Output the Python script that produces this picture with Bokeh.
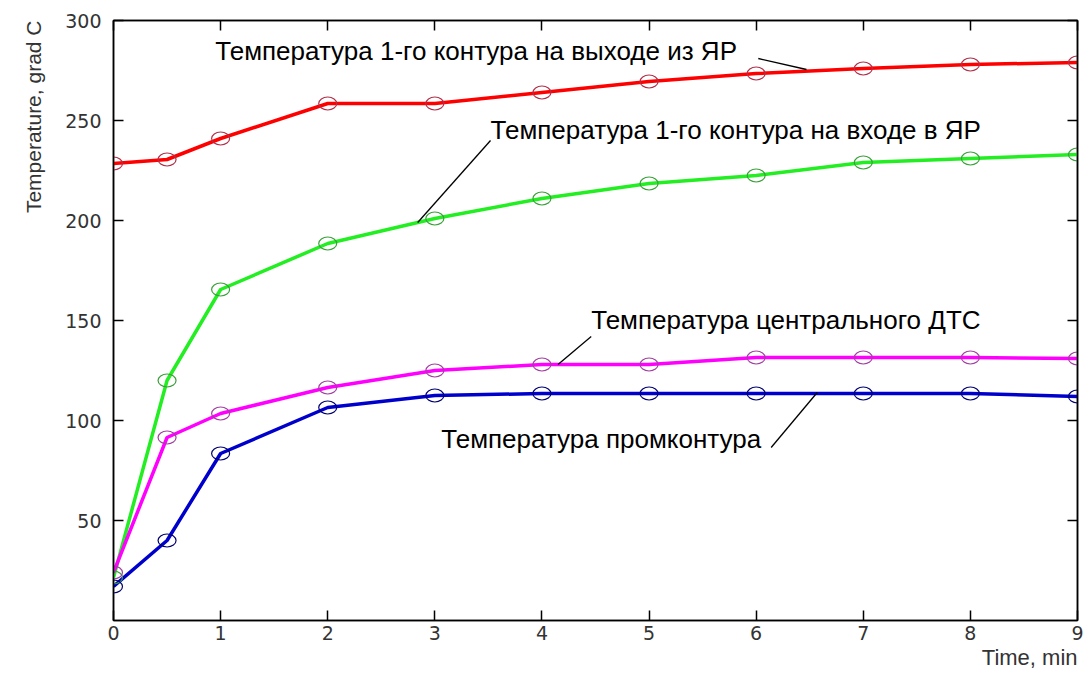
from bokeh.plotting import figure
from bokeh.models import Range1d, FixedTicker, LinearAxis, Title
from bokeh.core.properties import value
from bokeh.embed import file_html
from bokeh.resources import INLINE

time_min = [0, 0.5, 1, 2, 3, 4, 5, 6, 7, 8, 9]
t_out = [228.5, 230.5, 241, 258.5, 258.5, 264, 269.5, 273.5, 276, 278, 279]
t_in = [21.5, 120, 165.5, 188.5, 201, 211, 218.5, 222.5, 229, 231, 233]
t_dts = [24, 91.5, 103.5, 116.5, 125, 128, 128, 131.5, 131.5, 131.5, 131]
t_prom = [17, 40, 83.5, 106.5, 112.5, 113.5, 113.5, 113.5, 113.5, 113.5, 112]

x_ticks = [0, 1, 2, 3, 4, 5, 6, 7, 8, 9]
y_ticks = [50, 100, 150, 200, 250, 300]

series = [
    (t_out, "#ff0000", "#b0304a"),
    (t_in, "#22ee22", "#3aa03a"),
    (t_dts, "#ff00ff", "#a040a0"),
    (t_prom, "#0000cc", "#000070"),
]

labels = [
    ("Температура 1-го контура на выходе из ЯР", 0.95, 285, (6.02, 6.47), (281, 275.5)),
    ("Температура 1-го контура на входе в ЯР", 3.52, 245.5, (3.52, 2.84), (240, 199)),
    ("Температура центрального ДТС", 4.46, 150.5, (4.46, 4.15), (142, 128)),
    ("Температура промконтура", 3.06, 91, (6.14, 6.57), (86.5, 114)),
]

FONT = "Liberation Sans"

p = figure(width=1087, height=676, output_backend="svg", toolbar_location=None,
           x_range=Range1d(0, 9), y_range=Range1d(0, 300),
           min_border_left=113, min_border_right=10, min_border_top=20,
           min_border_bottom=56)
p.background_fill_color = "white"
p.border_fill_color = "white"
p.outline_line_color = "black"
p.outline_line_width = 1.5
p.grid.visible = False

for ax in p.xaxis + p.yaxis:
    ax.major_tick_in = 10
    ax.major_tick_out = 0
    ax.minor_tick_line_color = None
    ax.axis_line_color = "black"
    ax.axis_line_width = 1.5
    ax.major_tick_line_width = 1.5
    ax.major_label_text_font = "DejaVu Sans"
    ax.major_label_text_font_size = "19px"
    ax.major_label_text_color = "#333333"
p.xaxis.ticker = FixedTicker(ticks=x_ticks)
p.yaxis.ticker = FixedTicker(ticks=y_ticks)
p.xaxis.major_label_standoff = 5
p.yaxis.major_label_standoff = 12

for loc, tks in (("above", x_ticks), ("right", y_ticks)):
    ax = LinearAxis(ticker=FixedTicker(ticks=tks),
                    major_label_overrides={t: "" for t in tks},
                    major_tick_in=10, major_tick_out=0, minor_tick_line_color=None,
                    axis_line_width=1.5, major_tick_line_width=1.5, major_label_standoff=0)
    p.add_layout(ax, loc)

p.add_layout(Title(text="Time, min", align="right", text_font=FONT,
                   text_font_size="22px", text_font_style="normal",
                   text_color="#333333", offset=0, standoff=0), "below")
p.add_layout(Title(text="Temperature, grad C", align="right", text_font=FONT,
                   text_font_size="21px", text_font_style="normal",
                   text_color="#333333", offset=0, standoff=35), "left")

for ys, lc, mc in series:
    p.line(time_min, ys, line_color=lc, line_width=3.5)
for ys, lc, mc in series:
    p.ellipse(time_min, ys, width=18, height=13, width_units="screen",
              height_units="screen", fill_color=None, line_color=mc, line_width=1.2)

for txt, tx, ty, lx, ly in labels:
    p.text([tx], [ty], text=[txt], text_font=value(FONT), text_font_size="26px",
           text_baseline="middle", text_align="left", text_color="black")
    p.line(list(lx), list(ly), line_color="black", line_width=1.3)

open("out.html", "w").write(file_html(p, INLINE))
